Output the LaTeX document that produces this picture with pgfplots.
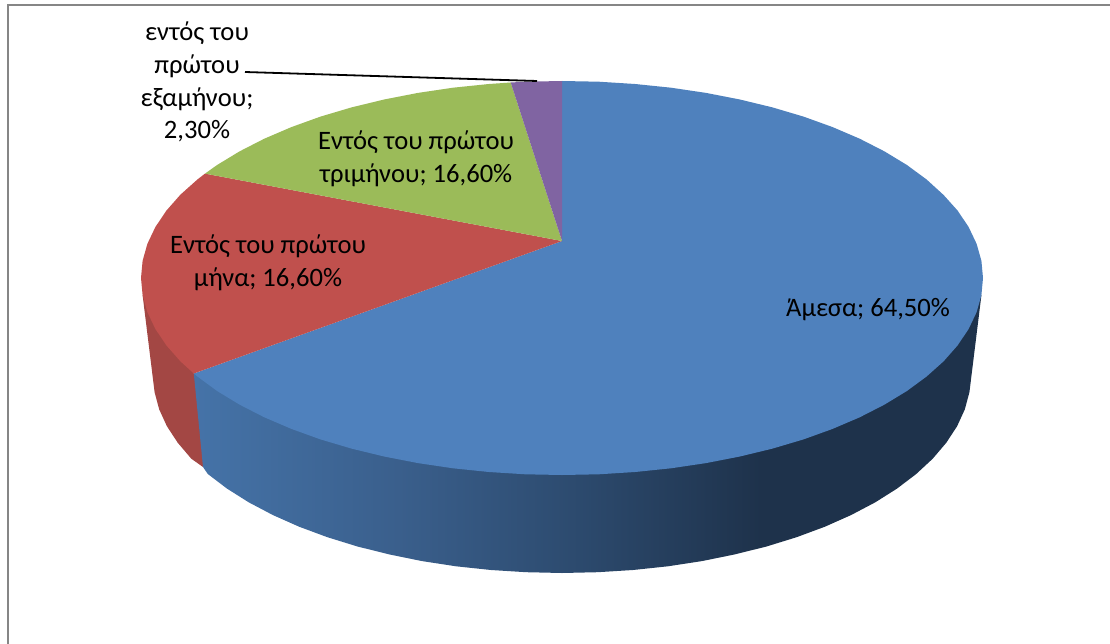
\documentclass[border=0pt]{standalone}
\usepackage{fontspec}
\setmainfont{Carlito}
\usepackage{pgfplots}
\pgfplotsset{compat=1.18}

\definecolor{frameg}{HTML}{868686}
\definecolor{blueT}{HTML}{4F81BD}
\definecolor{redT}{HTML}{C0504D}
\definecolor{greenT}{HTML}{9BBB59}
\definecolor{purpleT}{HTML}{8064A2}
\definecolor{redS}{HTML}{A34744}
\definecolor{blueA}{HTML}{4573A8}
\definecolor{blueB}{HTML}{3A5F8C}
\definecolor{blueC}{HTML}{2E4D72}
\definecolor{blueD}{HTML}{1E324B}
% 25bp and 75bp are the left and right ends of the side wall
\pgfdeclarehorizontalshading{sideblue}{100bp}{color(0bp)=(blueA); color(25bp)=(blueA); color(38bp)=(blueB); color(48bp)=(blueC); color(61bp)=(blueD); color(100bp)=(blueD)}

\begin{document}
\begin{tikzpicture}
\useasboundingbox (0,0) rectangle (1110bp,644bp);
\begin{axis}[
  at={(0,0)}, anchor=south west,
  scale only axis,
  width=1110bp, height=644bp,
  xmin=0, xmax=1110, ymin=0, ymax=644,
  y dir=reverse,
  hide axis,
  clip=false,
]
% outer frame (no right or bottom edge in the picture)
\addplot[frameg, line width=2bp] coordinates {(7.5,644) (7.5,5) (1110,5)};

% side walls, red first so that the blue wall covers the seam
\addplot[fill=redS, draw=none] coordinates {
  (142.6,295.2) (193.8,373.5) (212,400) (208,460) (203,467) (191.3,458.7) (177.7,442.7)
  (166.9,426.2) (159.2,409.4) (154.6,392.3)
} -- cycle;
\addplot[shade, shading=sideblue, draw=none] coordinates {
  (981.4,295.2) (562,300) (193.8,373.5) (203,467)
  (207.8,474) (227,488.6) (248.7,502.3) (272.8,515) (299.1,526.7) (327.4,537.2)
  (357.5,546.5) (389.2,554.4) (422.1,561.1) (456.1,566.3) (491,570) (526.3,572.2)
  (562,573) (597.7,572.2) (633,570) (667.9,566.3) (701.9,561.1) (734.8,554.4)
  (766.5,546.5) (796.6,537.2) (824.9,526.7) (851.2,515) (875.3,502.3) (897,488.6)
  (916.2,474) (932.7,458.7) (946.3,442.7) (957.1,426.2) (964.8,409.4) (969.4,392.3)
} -- cycle;

% top faces
\addplot[fill=blueT, draw=none] coordinates {
  (562,241) (562,81) (598.7,81.7) (635.1,84) (671,87.7) (706,92.9) (739.9,99.5)
  (772.5,107.4) (803.5,116.6) (832.6,127.1) (859.7,138.7) (884.5,151.4) (906.9,165)
  (926.6,179.5) (943.6,195) (957.6,210.6) (968.6,227) (976.6,243.8) (981.4,260.8)
  (983,278) (981.4,295.2) (976.6,312.2) (968.6,329) (957.6,345.4) (943.6,361.3)
  (926.6,376.5) (906.9,391) (884.5,404.6) (859.7,417.3) (832.6,428.9) (803.5,439.4)
  (772.5,448.6) (739.9,456.5) (706,463.1) (671,468.3) (635.1,472) (598.7,474.3)
  (562,475) (525.3,474.3) (488.9,472) (453,468.3) (418,463.1) (384.1,456.5)
  (351.5,448.6) (320.5,439.4) (291.4,428.9) (264.3,417.3) (239.5,404.6) (217.1,391)
  (197.4,376.5) (193.8,373.5)
} -- cycle;
\addplot[fill=redT, draw=none] coordinates {
  (562,241) (193.8,373.5) (180.4,361.3) (166.4,345.4) (155.4,329) (147.4,312.2)
  (142.6,295.2) (141,278) (142.6,260.8) (147.4,243.8) (155.4,227) (166.4,210.6)
  (180.4,194.7) (197.4,179.5) (205,173.6)
} -- cycle;
\addplot[fill=greenT, draw=none] coordinates {
  (562,241) (205,173.6) (217.1,165) (239.5,151.4) (264.3,138.7) (291.4,127.1)
  (320.5,116.6) (351.5,107.4) (384.1,99.5) (418,92.9) (453,87.7) (488.9,84) (510.7,82.5)
} -- cycle;
\addplot[fill=purpleT, draw=none] coordinates {
  (562,241) (510.7,82.5) (525.3,81.7) (562,81)
} -- cycle;

% leader line
\addplot[black, line width=1.8bp] coordinates {(245,72) (537,81)};

% data labels
\tikzset{lab/.style={font=\fontsize{26.7}{33}\selectfont, align=center, inner sep=0pt, text=black}}
\node[lab] at (axis cs:868,310) {Άμεσα; 64,50\%};
\node[lab] at (axis cs:416,159) {Εντός του πρώτου\\τριμήνου; 16,60\%};
\node[lab] at (axis cs:268,263) {Εντός του πρώτου\\μήνα; 16,60\%};
\node[lab] at (axis cs:197,82) {εντός του\\πρώτου\\εξαμήνου;\\2,30\%};
\end{axis}
\end{tikzpicture}
\end{document}
